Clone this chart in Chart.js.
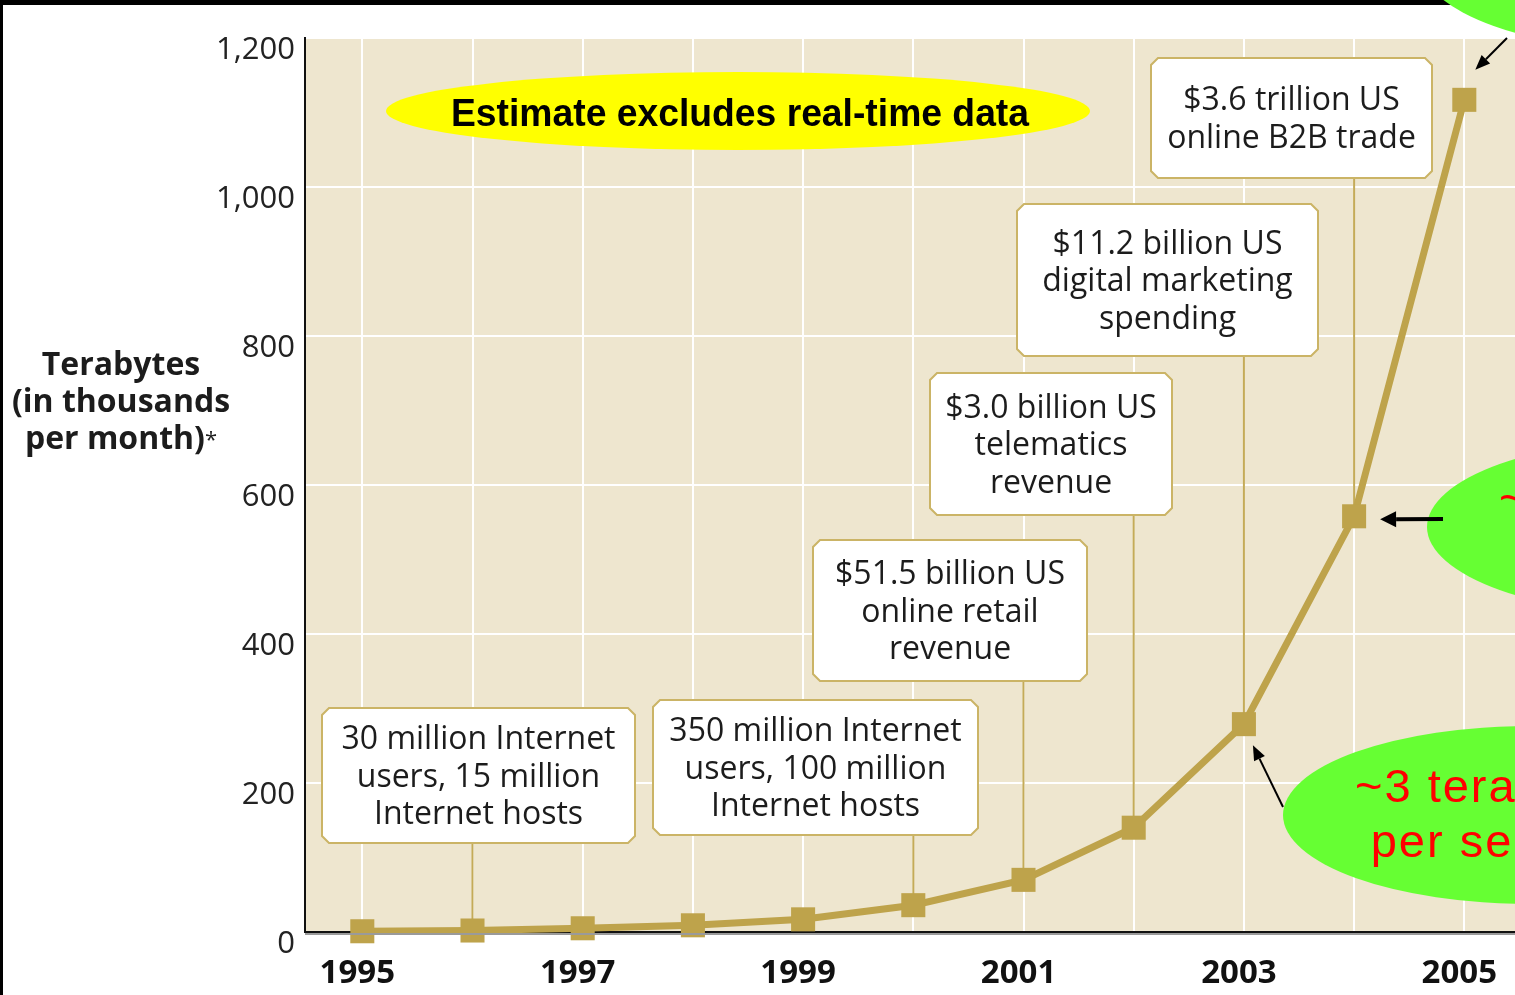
<!DOCTYPE html>
<html>
<head>
<meta charset="utf-8">
<script src="https://cdn.jsdelivr.net/npm/chart.js@4.4.1/dist/chart.umd.min.js"></script>
<style>
  html, body { margin: 0; padding: 0; background: #ffffff; overflow: hidden; }
  canvas { display: block; }
</style>
</head>
<body>
<canvas id="chart" width="1515" height="995"></canvas>
<script>
// ---- Data ----
const years = [1995, 1996, 1997, 1998, 1999, 2000, 2001, 2002, 2003, 2004, 2005];
const terabytes = [1, 2, 5, 9, 17, 36, 70, 140, 279, 558, 1117];
const yTickValues = [0, 200, 400, 600, 800, 1000, 1200];
const yTitleLines = ['Terabytes', '(in thousands', 'per month)'];
const yTitleNote = '*';
const bannerText = 'Estimate excludes real-time data';

// Milestones: year each callout points at, and its text lines
const milestoneYears = [1996, 2000, 2001, 2002, 2003, 2004];
const milestoneTexts = [
  ['30 million Internet', 'users, 15 million', 'Internet hosts'],
  ['350 million Internet', 'users, 100 million', 'Internet hosts'],
  ['$51.5 billion US', 'online retail', 'revenue'],
  ['$3.0 billion US', 'telematics', 'revenue'],
  ['$11.2 billion US', 'digital marketing', 'spending'],
  ['$3.6 trillion US', 'online B2B trade']
];

// Green speech bubbles: which year each arrow points at, and their text
const bubbleYears = [2005, 2004, 2003];
const bubbleTexts = [
  [],
  ['~6 terabytes', 'per second'],
  ['~3 terabytes', 'per second']
];

// ---- Layout & style ----
const GOLD = '#BEA34B';
const BOX_BORDER = '#CBB466';
const CONNECTOR = '#C4AB58';
const PLOT_BG = '#EEE6CF';
const TEXT = '#1c1c1c';

// callout boxes [left, top, right, bottom] in canvas pixels
const milestoneBoxes = [
  [322, 708, 635, 843],
  [653, 700, 978, 835],
  [813, 540, 1087, 681],
  [930, 373, 1172, 515],
  [1017, 204, 1318, 356],
  [1151, 58, 1432, 178]
];
// bubble ellipses [cx, cy, rx, ry], arrow tail and tip offset from its point
const bubbleShapes = [
  { e: [1669, -37, 248, 89], tail: [1507, 38], tipOff: [11, -30], w: 2, head: [15, 6] },
  { e: [1675, 527, 248, 89], tail: [1443, 519], tipOff: [26, 3], w: 4, head: [16, 8] },
  { e: [1531, 815, 248, 89], tail: [1283, 807], tipOff: [9, 21], w: 2, head: [15, 6] }
];

const SANS = '"Open Sans", "Noto Sans", sans-serif';

function chamferRect(ctx, x1, y1, x2, y2, c) {
  ctx.beginPath();
  ctx.moveTo(x1 + c, y1);
  ctx.lineTo(x2 - c, y1);
  ctx.lineTo(x2, y1 + c);
  ctx.lineTo(x2, y2 - c);
  ctx.lineTo(x2 - c, y2);
  ctx.lineTo(x1 + c, y2);
  ctx.lineTo(x1, y2 - c);
  ctx.lineTo(x1, y1 + c);
  ctx.closePath();
}

function arrow(ctx, tx, ty, hx, hy, width, headLen, headHalf) {
  const ang = Math.atan2(hy - ty, hx - tx);
  const bx = hx - Math.cos(ang) * headLen;
  const by = hy - Math.sin(ang) * headLen;
  ctx.strokeStyle = '#000';
  ctx.fillStyle = '#000';
  ctx.lineWidth = width;
  ctx.beginPath();
  ctx.moveTo(tx, ty);
  ctx.lineTo(bx, by);
  ctx.stroke();
  ctx.beginPath();
  ctx.moveTo(hx, hy);
  ctx.lineTo(bx + Math.sin(ang) * headHalf, by - Math.cos(ang) * headHalf);
  ctx.lineTo(bx - Math.sin(ang) * headHalf, by + Math.cos(ang) * headHalf);
  ctx.closePath();
  ctx.fill();
}

function pointPixel(chart, year) {
  const i = years.indexOf(year);
  return [chart.scales.x.getPixelForValue(years[i]), chart.scales.y.getPixelForValue(terabytes[i])];
}

function noScalePadding(scale) {
  scale.paddingLeft = 0;
  scale.paddingRight = 0;
  scale.paddingTop = 0;
  scale.paddingBottom = 0;
}

// beige plot area
const plotBackground = {
  id: 'plotBackground',
  beforeDraw(chart) {
    const { ctx, chartArea: a } = chart;
    ctx.save();
    ctx.fillStyle = '#ffffff';
    ctx.fillRect(0, 0, chart.width, chart.height);
    ctx.fillStyle = PLOT_BG;
    ctx.fillRect(a.left, a.top, a.right - a.left, a.bottom - a.top);
    ctx.restore();
  }
};

// milestone callouts with connectors down to their points
const milestones = {
  id: 'milestones',
  beforeDatasetsDraw(chart) {
    const { ctx } = chart;
    ctx.save();
    milestoneYears.forEach((yr, k) => {
      const [px, py] = pointPixel(chart, yr);
      const [x1, y1, x2, y2] = milestoneBoxes[k];
      ctx.strokeStyle = CONNECTOR;
      ctx.lineWidth = 2;
      ctx.beginPath();
      ctx.moveTo(px, y2);
      ctx.lineTo(px, py);
      ctx.stroke();

      chamferRect(ctx, x1, y1, x2, y2, 7);
      ctx.fillStyle = '#ffffff';
      ctx.fill();
      ctx.strokeStyle = BOX_BORDER;
      ctx.lineWidth = 2;
      ctx.stroke();

      const lines = milestoneTexts[k];
      const cx = (x1 + x2) / 2;
      const cy = (y1 + y2) / 2 + 11;
      ctx.fillStyle = TEXT;
      ctx.font = '32px ' + SANS;
      ctx.textAlign = 'center';
      ctx.textBaseline = 'alphabetic';
      lines.forEach((t, j) => {
        ctx.fillText(t, cx, cy + (j - (lines.length - 1) / 2) * 37.5);
      });
    });
    ctx.restore();
  }
};

// axis title, banner, bubbles, arrows and frame
const overlays = {
  id: 'overlays',
  afterDraw(chart) {
    const { ctx, chartArea: a } = chart;
    ctx.save();

    // faint shadow under the x axis
    ctx.fillStyle = '#9a9a9a';
    ctx.fillRect(a.left, a.bottom + 1, a.right - a.left, 2);

    // y-axis title
    ctx.fillStyle = TEXT;
    ctx.textAlign = 'center';
    ctx.textBaseline = 'alphabetic';
    ctx.font = 'bold 32px ' + SANS;
    const base = [375, 412, 449];
    yTitleLines.forEach((t, j) => {
      if (j < yTitleLines.length - 1) {
        ctx.fillText(t, 121, base[j]);
      } else {
        const w = ctx.measureText(t).width;
        ctx.font = '22px ' + SANS;
        const nw = ctx.measureText(yTitleNote).width;
        const left = 121 - (w + nw) / 2;
        ctx.font = 'bold 32px ' + SANS;
        ctx.textAlign = 'left';
        ctx.fillText(t, left, base[j]);
        ctx.font = '22px ' + SANS;
        ctx.fillText(yTitleNote, left + w, base[j] - 2);
      }
    });

    // yellow banner
    ctx.fillStyle = '#FFFF00';
    ctx.beginPath();
    ctx.ellipse(738, 111, 352, 39, 0, 0, Math.PI * 2);
    ctx.fill();
    ctx.fillStyle = '#000';
    ctx.font = 'bold 39px "Liberation Sans", Arial, sans-serif';
    ctx.textAlign = 'center';
    ctx.textBaseline = 'alphabetic';
    ctx.fillText(bannerText, 740, 126, 578);

    // frame
    ctx.fillStyle = '#000';
    ctx.fillRect(0, 0, chart.width, 5);
    ctx.fillRect(0, 0, 3, chart.height);

    // green bubbles with arrows to their points
    bubbleYears.forEach((yr, k) => {
      const s = bubbleShapes[k];
      const [cx, cy, rx, ry] = s.e;
      ctx.fillStyle = '#66FF33';
      ctx.beginPath();
      ctx.ellipse(cx, cy, rx, ry, 0, 0, Math.PI * 2);
      ctx.fill();
      ctx.fillStyle = '#FF0000';
      ctx.font = '47px "Liberation Sans", Arial, sans-serif';
      ctx.letterSpacing = '2px';
      ctx.textAlign = 'left';
      ctx.textBaseline = 'alphabetic';
      bubbleTexts[k].forEach((t, j) => {
        const tw = ctx.measureText(t).width;
        ctx.fillText(t, cx - 34 - tw / 2, cy - 13 + j * 55);
      });
      ctx.letterSpacing = '0px';
      const [px, py] = pointPixel(chart, yr);
      arrow(ctx, s.tail[0], s.tail[1], px + s.tipOff[0], py + s.tipOff[1], s.w, s.head[0], s.head[1]);
    });

    ctx.restore();
  }
};

function draw() {
  const ctx = document.getElementById('chart').getContext('2d');
  new Chart(ctx, {
    type: 'line',
    data: {
      datasets: [{
        data: years.map((y, i) => ({ x: y, y: terabytes[i] })),
        borderColor: GOLD,
        backgroundColor: GOLD,
        borderWidth: 7,
        pointStyle: 'rect',
        pointRadius: 17,
        pointHoverRadius: 17,
        pointBorderWidth: 0,
        tension: 0,
        clip: false
      }]
    },
    options: {
      responsive: false,
      animation: false,
      devicePixelRatio: 1,
      events: [],
      layout: { autoPadding: false, padding: { top: 38, left: 0, right: 0, bottom: 0 } },
      plugins: { legend: { display: false }, tooltip: { enabled: false } },
      scales: {
        x: {
          type: 'linear',
          min: 1994.48,
          max: 2005.46,
          afterFit(scale) { scale.height = 63; noScalePadding(scale); },
          ticks: {
            stepSize: 1,
            includeBounds: false,
            autoSkip: false,
            maxRotation: 0,
            minRotation: 0,
            padding: 22,
            labelOffset: -5,
            color: '#111',
            font: { family: SANS, size: 33, weight: 'bold' },
            callback: v => (Number.isInteger(v) && v % 2 === 1 ? String(v) : '')
          },
          grid: { color: '#ffffff', lineWidth: 2, drawTicks: false },
          border: { color: '#111', width: 2 }
        },
        y: {
          min: 0,
          max: 1200,
          afterFit(scale) { scale.width = 305; noScalePadding(scale); },
          afterBuildTicks(scale) { scale.ticks = yTickValues.map(v => ({ value: v })); },
          ticks: {
            padding: 10,
            labelOffset: 12,
            color: '#222',
            font: { family: SANS, size: 31 },
            callback: v => v.toLocaleString('en-US')
          },
          grid: { color: '#ffffff', lineWidth: 2, drawTicks: false },
          border: { color: '#111', width: 2 }
        }
      }
    },
    plugins: [plotBackground, milestones, overlays]
  });
}

const fontLoads = [
  '32px "Open Sans"', 'bold 32px "Open Sans"', 'bold 39px "Liberation Sans"', '47px "Liberation Sans"'
].map(f => document.fonts.load(f).catch(() => null));
Promise.all(fontLoads).then(draw, draw);
</script>
</body>
</html>
